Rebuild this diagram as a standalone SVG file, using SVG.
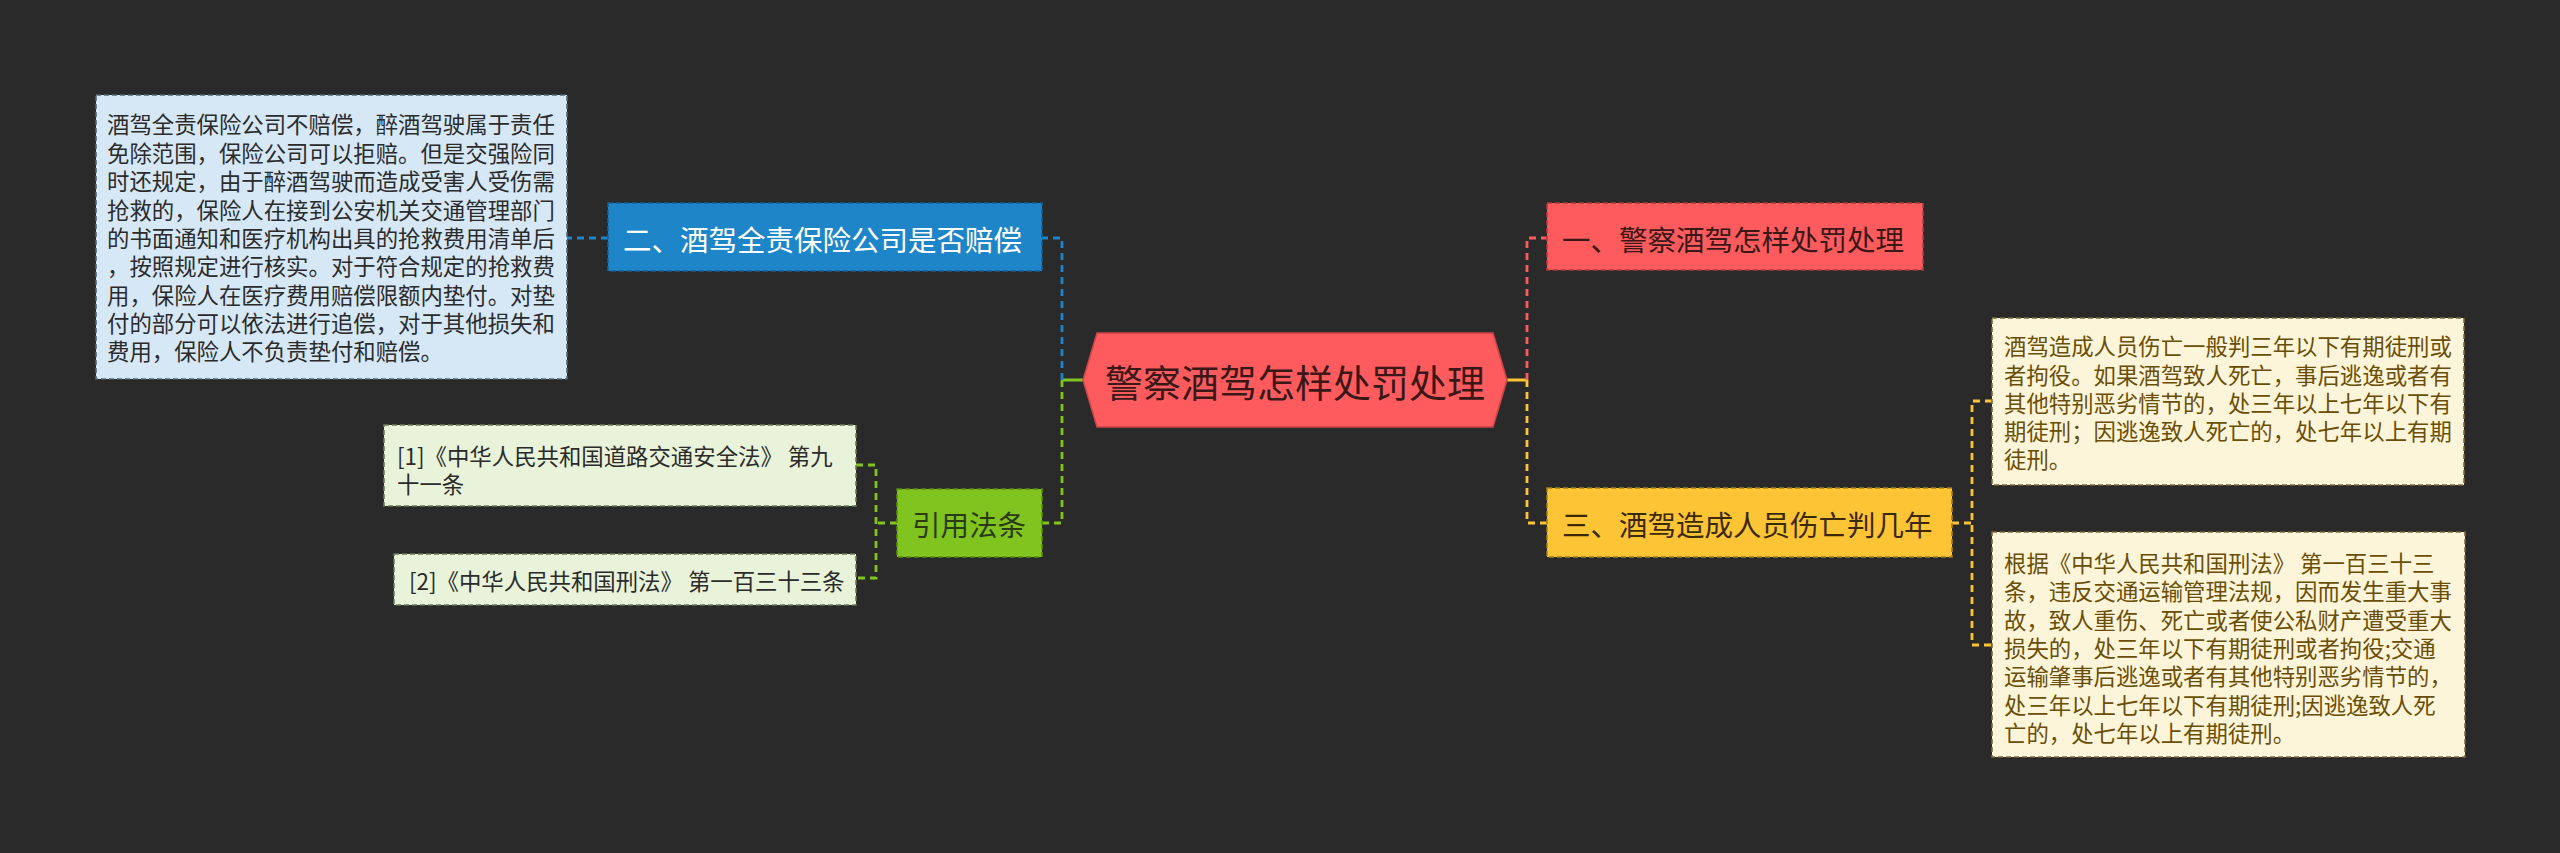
<svg xmlns="http://www.w3.org/2000/svg" width="2560" height="853" viewBox="0 0 2560 853">
<style>
text{font-family:"Noto Sans CJK SC","Noto Sans",sans-serif;dominant-baseline:central}
.small{font-size:22.4px}
.mid{font-size:28.5px}
.conn{fill:none;stroke-width:2.8;stroke-dasharray:7,5}
.solid{fill:none;stroke-width:3}
.box{stroke-width:1.6;stroke-dasharray:5,3}
</style>
<rect x="0" y="0" width="2560" height="853" fill="#2a2a2a"/>
<g id="connectors">
<path class="solid" stroke="#82c41f" d="M1062,380 H1084"/>
<path class="solid" stroke="#fdc435" d="M1506,380 H1527"/>
<path class="conn" stroke="#1e85c9" d="M1062,380 V238 H1042"/>
<path class="conn" stroke="#1e85c9" d="M608,238 H567"/>
<path class="conn" stroke="#82c41f" d="M1062,380 V523 H1042"/>
<path class="conn" stroke="#82c41f" d="M897,523 H876"/>
<path class="conn" stroke="#82c41f" d="M856,465 H876 V578 H856"/>
<path class="conn" stroke="#fd5b5e" d="M1527,380 V238 H1547"/>
<path class="conn" stroke="#fdc435" d="M1527,380 V523 H1547"/>
<path class="conn" stroke="#fdc435" d="M1952,523 H1972"/>
<path class="conn" stroke="#fdc435" d="M1992,401 H1972 V645 H1992"/>
</g>
<g id="root">
<polygon points="1083,380 1097,333 1493,333 1507,380 1493,427 1097,427" fill="#fd5b5e" stroke="#c8464a" stroke-width="1.5"/>
<text x="1295" y="380" text-anchor="middle" font-size="38" fill="#3a1818">警察酒驾怎样处罚处理</text>
</g>
<g id="node-blue">
<rect class="box" x="608" y="203" width="434" height="68" fill="#1e85c9" stroke="#155f92"/>
<text class="mid" x="623" y="238" fill="#ffffff">二、酒驾全责保险公司是否赔偿</text>
</g>
<g id="node-blue-detail">
<rect class="box" x="96" y="95" width="471" height="284" fill="#d6e8f6" stroke="#50667a"/>
<text class="small" fill="#2b2b2b">
<tspan x="107" y="123">酒驾全责保险公司不赔偿，醉酒驾驶属于责任</tspan>
<tspan x="107" y="151.5">免除范围，保险公司可以拒赔。但是交强险同</tspan>
<tspan x="107" y="180">时还规定，由于醉酒驾驶而造成受害人受伤需</tspan>
<tspan x="107" y="208.5">抢救的，保险人在接到公安机关交通管理部门</tspan>
<tspan x="107" y="237">的书面通知和医疗机构出具的抢救费用清单后</tspan>
<tspan x="107" y="265">，按照规定进行核实。对于符合规定的抢救费</tspan>
<tspan x="107" y="293.5">用，保险人在医疗费用赔偿限额内垫付。对垫</tspan>
<tspan x="107" y="322">付的部分可以依法进行追偿，对于其他损失和</tspan>
<tspan x="107" y="350">费用，保险人不负责垫付和赔偿。</tspan>
</text>
</g>
<g id="node-green">
<rect class="box" x="897" y="489" width="145" height="68" fill="#82c41f" stroke="#5a8c12"/>
<text class="mid" x="912" y="523" fill="#2a3a12">引用法条</text>
</g>
<g id="node-law1">
<rect class="box" x="384" y="425" width="472" height="81" fill="#e8f3da" stroke="#6a7a55"/>
<text class="small" fill="#2b2b2b" xml:space="preserve"><tspan x="397" y="455">[1]《中华人民共和国道路交通安全法》 第九</tspan><tspan x="397" y="483">十一条</tspan></text>
</g>
<g id="node-law2">
<rect class="box" x="394" y="554" width="462" height="51" fill="#e8f3da" stroke="#6a7a55"/>
<text class="small" x="409" y="580" fill="#2b2b2b" xml:space="preserve">[2]《中华人民共和国刑法》 第一百三十三条</text>
</g>
<g id="node-red">
<rect class="box" x="1547" y="203" width="376" height="67" fill="#fd5b5e" stroke="#b8393d"/>
<text class="mid" x="1562" y="238" fill="#3a1818">一、警察酒驾怎样处罚处理</text>
</g>
<g id="node-yellow">
<rect class="box" x="1547" y="488" width="405" height="69" fill="#fdc435" stroke="#a88018"/>
<text class="mid" x="1562" y="523" fill="#3a2a08">三、酒驾造成人员伤亡判几年</text>
</g>
<g id="node-yellow-detail1">
<rect class="box" x="1992" y="318" width="472" height="167" fill="#fdf5da" stroke="#7a6a40"/>
<text class="small" fill="#6b4e05">
<tspan x="2004" y="345">酒驾造成人员伤亡一般判三年以下有期徒刑或</tspan>
<tspan x="2004" y="373.5">者拘役。如果酒驾致人死亡，事后逃逸或者有</tspan>
<tspan x="2004" y="402">其他特别恶劣情节的，处三年以上七年以下有</tspan>
<tspan x="2004" y="430">期徒刑；因逃逸致人死亡的，处七年以上有期</tspan>
<tspan x="2004" y="458">徒刑。</tspan>
</text>
</g>
<g id="node-yellow-detail2">
<rect class="box" x="1992" y="532" width="473" height="225" fill="#fdf5da" stroke="#7a6a40"/>
<text class="small" fill="#6b4e05" xml:space="preserve"><tspan x="2004" y="562">根据《中华人民共和国刑法》 第一百三十三</tspan><tspan x="2004" y="590">条，违反交通运输管理法规，因而发生重大事</tspan><tspan x="2004" y="618.5">故，致人重伤、死亡或者使公私财产遭受重大</tspan><tspan x="2004" y="647">损失的，处三年以下有期徒刑或者拘役;交通</tspan><tspan x="2004" y="675">运输肇事后逃逸或者有其他特别恶劣情节的，</tspan><tspan x="2004" y="703.5">处三年以上七年以下有期徒刑;因逃逸致人死</tspan><tspan x="2004" y="732">亡的，处七年以上有期徒刑。</tspan></text>
</g>
</svg>
